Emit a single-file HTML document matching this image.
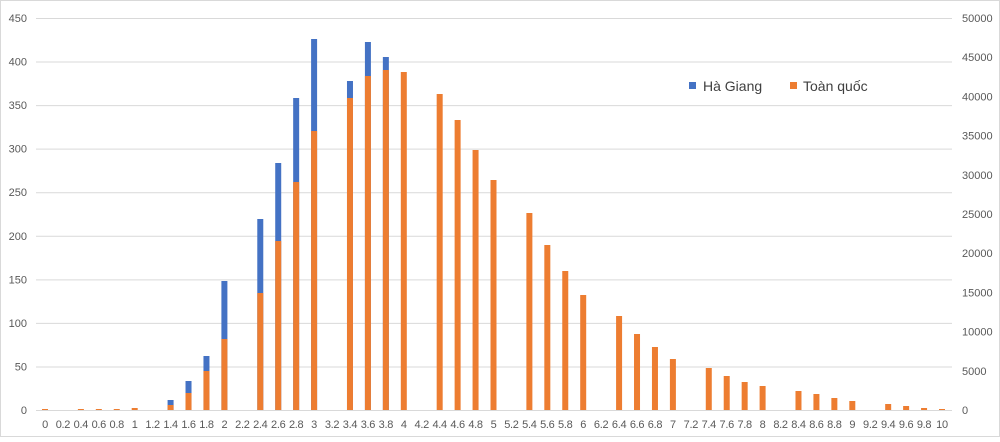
<!DOCTYPE html>
<html><head><meta charset="utf-8"><style>
body{margin:0;background:#fff;}
svg text{font-family:"Liberation Sans",sans-serif;fill:#595959;}
</style></head><body>
<svg width="1000" height="437" viewBox="0 0 1000 437" xmlns="http://www.w3.org/2000/svg">
<rect x="0.5" y="0.5" width="999" height="436" fill="#fff" stroke="#d9d9d9"/>
<g id="grid" stroke="#d9d9d9" stroke-width="1"></g>
<g id="bars"></g>
<g id="labels" font-size="11"></g>
<rect x="689" y="82" width="7" height="7" fill="#4472c4"/>
<text x="703" y="91" font-size="14" style="fill:#404040">Hà Giang</text>
<rect x="790" y="82" width="7" height="7" fill="#ed7d31"/>
<text x="803" y="91" font-size="14" style="fill:#404040">Toàn quốc</text>
<script>
var NS="http://www.w3.org/2000/svg";
function el(p,t,a,txt){var e=document.createElementNS(NS,t);for(var k in a)e.setAttribute(k,a[k]);if(txt!=null)e.textContent=txt;document.getElementById(p).appendChild(e);}
var y0=410,yTop=18;
for(var i=0;i<=9;i++){var y=y0-(y0-yTop)*i/9;
el("grid","line",{x1:36,x2:952,y1:y+0.5,y2:y+0.5});
el("labels","text",{x:27,y:y+4,"text-anchor":"end"},String(i*50));}
for(var i=0;i<=10;i++){var y=y0-(y0-yTop)*i/10;
el("labels","text",{x:962,y:y+4},String(i*5000));}
var o={0:409,2:409,3:409,4:409,5:408,7:405,8:393,9:371,10:339,12:293,13:241,14:182,15:131,17:98,18:76,19:70,20:72,22:94,23:120,24:150,25:180,27:213,28:245,29:271,30:295,32:316,33:334,34:347,35:359,37:368,38:376,39:382,40:386,42:391,43:394,44:398,45:401,47:404,48:406,49:408,50:409};
var b={7:400,8:381,9:356,10:281,12:219,13:163,14:98,15:39,17:81,18:42,19:57};
for(var c=0;c<=50;c++){var x=45+c*(897/50);
var l=(c/5).toFixed(1).replace(/\.0$/,"");
el("labels","text",{x:x,y:428,"text-anchor":"middle","letter-spacing":"-0.3"},l);
if(b[c])el("bars","rect",{x:x-3,y:b[c],width:6,height:y0-b[c],fill:"#4472c4"});
if(o[c]!=null){var t=Math.min(o[c],409);el("bars","rect",{x:x-3,y:t,width:6,height:y0-t,fill:"#ed7d31"});}
}
</script>
</svg>
</body></html>
